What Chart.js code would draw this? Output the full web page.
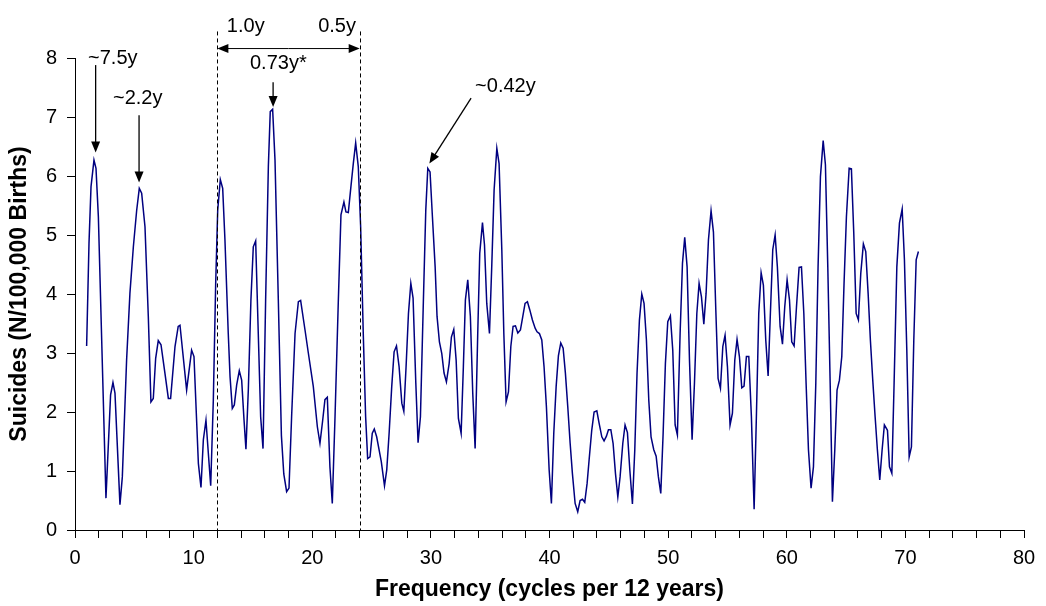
<!DOCTYPE html>
<html>
<head>
<meta charset="utf-8">
<title>Suicides spectrum</title>
<script src="https://cdn.jsdelivr.net/npm/chart.js@4.4.1/dist/chart.umd.min.js"></script>
<style>
  html, body { margin: 0; padding: 0; background: #fff; }
  #chart { display: block; }
</style>
</head>
<body>
<canvas id="chart" width="1046" height="606"></canvas>
<script>
// --- Data ---
const FREQ = [
  0.98, 1.18, 1.35, 1.6, 1.77, 1.97, 2.61, 3.0, 3.2, 3.37, 3.79, 3.99, 4.35, 4.63, 4.92, 5.2, 5.42, 5.62, 5.9, 6.18,
  6.4, 6.6, 6.8, 7.02, 7.25, 7.58, 7.87, 8.06, 8.43, 8.7, 8.85, 9.41, 9.83, 10.03, 10.4, 10.62, 10.82, 11.04, 11.24, 11.44,
  11.66, 11.86, 12.03, 12.25, 12.45, 12.64, 12.92, 13.07, 13.26, 13.43, 13.63, 13.85, 14.05, 14.25, 14.41, 14.61, 14.83, 15.03, 15.23, 15.45,
  15.65, 15.85, 16.07, 16.3, 16.46, 16.66, 16.86, 17.14, 17.4, 17.6, 17.84, 18.04, 18.26, 18.55, 18.83, 19.02, 19.39, 19.67, 20.09, 20.43,
  20.65, 20.88, 21.07, 21.27, 21.49, 21.69, 21.92, 22.2, 22.42, 22.67, 22.84, 23.04, 23.26, 23.46, 23.66, 23.88, 24.08, 24.3, 24.5, 24.67,
  24.87, 25.06, 25.23, 25.43, 25.82, 26.09, 26.28, 26.48, 26.7, 26.9, 27.1, 27.32, 27.55, 27.72, 27.91, 28.11, 28.31, 28.5, 28.73, 28.92,
  29.12, 29.37, 29.57, 29.74, 29.93, 30.13, 30.36, 30.52, 30.72, 30.92, 31.11, 31.31, 31.54, 31.73, 31.93, 32.13, 32.32, 32.55, 32.74, 32.91,
  33.11, 33.33, 33.53, 33.73, 33.95, 34.12, 34.35, 34.52, 34.71, 34.94, 35.13, 35.33, 35.56, 35.75, 35.98, 36.15, 36.34, 36.54, 36.74, 36.93,
  37.13, 37.33, 37.55, 37.75, 37.94, 38.14, 38.34, 38.56, 38.79, 38.95, 39.15, 39.35, 39.54, 39.74, 39.97, 40.16, 40.36, 40.56, 40.75, 40.95,
  41.15, 41.34, 41.54, 41.74, 41.93, 42.16, 42.38, 42.58, 42.78, 42.97, 43.17, 43.34, 43.56, 43.76, 43.99, 44.18, 44.41, 44.6, 44.8, 44.97,
  45.17, 45.36, 45.56, 45.76, 45.95, 46.18, 46.37, 46.57, 46.77, 46.99, 47.19, 47.38, 47.58, 47.78, 47.97, 48.17, 48.37, 48.56, 48.79, 48.99,
  49.18, 49.38, 49.58, 49.77, 49.97, 50.19, 50.39, 50.59, 50.78, 51.01, 51.21, 51.4, 51.6, 51.8, 52.02, 52.22, 52.42, 52.61, 52.81, 53.01,
  53.2, 53.4, 53.62, 53.82, 54.02, 54.21, 54.41, 54.61, 54.8, 55.0, 55.22, 55.42, 55.62, 55.81, 56.01, 56.21, 56.4, 56.6, 56.8, 57.02,
  57.25, 57.44, 57.64, 57.84, 58.03, 58.23, 58.43, 58.62, 58.82, 59.02, 59.21, 59.44, 59.64, 59.83, 60.03, 60.23, 60.42, 60.62, 60.82, 61.04,
  61.24, 61.44, 61.63, 61.83, 62.05, 62.25, 62.45, 62.64, 62.84, 63.07, 63.26, 63.46, 63.66, 63.85, 64.05, 64.24, 64.44, 64.64, 64.83, 65.03,
  65.26, 65.45, 65.65, 65.85, 66.04, 66.24, 66.46, 66.66, 66.86, 67.05, 67.25, 67.45, 67.64, 67.84, 68.04, 68.23, 68.49, 68.66, 68.86, 69.05,
  69.28, 69.5, 69.73, 69.92, 70.12, 70.32, 70.51, 70.71, 70.91, 71.1
];
const SUICIDES = [
  3.12, 4.86, 5.82, 6.27, 6.13, 5.31, 0.54, 2.29, 2.5, 2.32, 0.43, 0.9, 2.88, 4.01, 4.8, 5.42, 5.79, 5.71, 5.14, 3.62,
  2.17, 2.23, 2.91, 3.21, 3.14, 2.66, 2.23, 2.23, 3.11, 3.45, 3.47, 2.37, 3.05, 2.94, 1.13, 0.72, 1.53, 1.86, 1.3, 0.75,
  2.2, 4.18, 5.42, 5.94, 5.79, 4.92, 3.33, 2.6, 2.06, 2.12, 2.46, 2.7, 2.54, 1.86, 1.37, 2.37, 3.9, 4.8, 4.9, 3.33,
  1.92, 1.38, 3.9, 6.16, 7.09, 7.13, 6.27, 3.9, 1.6, 0.95, 0.65, 0.71, 1.92, 3.33, 3.87, 3.89, 3.39, 3.0, 2.43, 1.75,
  1.47, 1.86, 2.21, 2.25, 1.07, 0.45, 1.92, 3.9, 5.34, 5.56, 5.39, 5.38, 5.82, 6.21, 6.56, 6.16, 5.14, 3.33, 1.92, 1.21,
  1.24, 1.64, 1.71, 1.58, 1.16, 0.75, 1.02, 1.64, 2.43, 3.02, 3.12, 2.77, 2.15, 2.01, 2.77, 3.67, 4.18, 3.93, 2.49, 1.48,
  1.92, 3.9, 5.42, 6.13, 6.07, 5.31, 4.46, 3.62, 3.19, 2.99, 2.66, 2.51, 2.82, 3.27, 3.4, 2.88, 1.89, 1.64, 2.77, 3.9,
  4.24, 3.62, 2.32, 1.38, 3.33, 4.69, 5.21, 4.83, 3.84, 3.33, 4.46, 5.76, 6.47, 6.21, 4.75, 3.33, 2.17, 2.34, 3.11, 3.45,
  3.46, 3.34, 3.39, 3.62, 3.84, 3.87, 3.73, 3.56, 3.42, 3.36, 3.33, 3.22, 2.77, 2.09, 1.02, 0.45, 1.64, 2.43, 2.95, 3.17,
  3.08, 2.66, 2.09, 1.47, 0.96, 0.45, 0.31, 0.5, 0.52, 0.47, 0.79, 1.19, 1.69, 2.0, 2.02, 1.81, 1.58, 1.51, 1.59, 1.7,
  1.7, 1.47, 0.96, 0.56, 0.9, 1.47, 1.78, 1.65, 1.02, 0.44, 1.36, 2.66, 3.56, 4.0, 3.84, 3.22, 2.2, 1.58, 1.36, 1.25,
  0.9, 0.62, 1.64, 2.82, 3.53, 3.63, 3.05, 1.78, 1.61, 3.33, 4.52, 4.96, 4.46, 2.88, 1.53, 2.49, 3.67, 4.18, 3.95, 3.49,
  4.01, 4.92, 5.41, 5.05, 3.73, 2.57, 2.4, 3.11, 3.3, 2.77, 1.78, 1.98, 2.88, 3.23, 2.94, 2.41, 2.44, 2.94, 2.94, 1.92,
  0.35, 1.92, 3.67, 4.36, 4.15, 3.22, 2.61, 3.67, 4.75, 5.0, 4.46, 3.45, 3.15, 3.78, 4.24, 3.9, 3.19, 3.12, 3.78, 4.45,
  4.46, 3.67, 2.49, 1.36, 0.71, 1.07, 2.49, 4.46, 5.99, 6.6, 6.19, 4.46, 2.49, 0.48, 1.36, 2.37, 2.54, 2.94, 4.18, 5.31,
  6.13, 6.12, 5.03, 3.67, 3.56, 4.35, 4.85, 4.72, 4.01, 3.22, 2.54, 1.92, 1.36, 0.85, 1.36, 1.78, 1.69, 1.07, 0.96, 2.49,
  4.46, 5.2, 5.44, 4.58, 3.05, 1.24, 1.41, 3.22, 4.58, 4.72
];

const X_MIN = 0, X_MAX = 80, X_TICK_STEP = 2, X_LABEL_STEP = 10;
const Y_MIN = 0, Y_MAX = 8, Y_TICK_STEP = 1;
const PERIOD_BAND = [12, 24]; // 1.0y and 0.5y in cycles per 12 years

const FONT = '"Liberation Sans", Arial, sans-serif';

// --- Annotations: arrows, dashed band lines and period labels ---
function arrow(ctx, x1, y1, x2, y2, len = 11, half = 4.5) {
    const a = Math.atan2(y2 - y1, x2 - x1);
    ctx.beginPath();
    ctx.moveTo(x1, y1);
    ctx.lineTo(x2 - Math.cos(a) * len * 0.8, y2 - Math.sin(a) * len * 0.8);
    ctx.stroke();
    ctx.beginPath();
    ctx.moveTo(x2, y2);
    ctx.lineTo(x2 - Math.cos(a) * len + Math.sin(a) * half, y2 - Math.sin(a) * len - Math.cos(a) * half);
    ctx.lineTo(x2 - Math.cos(a) * len - Math.sin(a) * half, y2 - Math.sin(a) * len + Math.cos(a) * half);
    ctx.closePath();
    ctx.fill();
}

const annotations = {
    id: 'annotations',
    afterDraw(chart) {
        const ctx = chart.ctx;
        const xs = chart.scales.x, ys = chart.scales.y;
        const px = v => xs.getPixelForValue(v);
        const py = v => ys.getPixelForValue(v);
        ctx.save();
        ctx.strokeStyle = '#000';
        ctx.fillStyle = '#000';
        ctx.lineWidth = 1;

        // dashed band lines
        ctx.setLineDash([4, 3]);
        PERIOD_BAND.forEach(f => {
            ctx.beginPath();
            ctx.moveTo(Math.round(px(f)) + 0.5, py(8.45));
            ctx.lineTo(Math.round(px(f)) + 0.5, py(0));
            ctx.stroke();
        });
        ctx.setLineDash([]);

        // double-headed arrow between band lines
        const yb = py(8.16);
        arrow(ctx, (px(12) + px(24)) / 2, yb, px(24), yb);
        arrow(ctx, (px(12) + px(24)) / 2, yb, px(12), yb);

        // single arrows to peaks
        ctx.lineWidth = 1.3;
        arrow(ctx, px(1.74), py(7.88), px(1.74), py(6.4));
        arrow(ctx, px(5.4), py(7.03), px(5.4), py(5.89));
        arrow(ctx, px(16.7), py(7.59), px(16.7), py(7.17));
        arrow(ctx, px(33.39), py(7.32), px(29.87), py(6.21));

        // labels
        ctx.font = '20px ' + FONT;
        ctx.textAlign = 'left';
        ctx.textBaseline = 'middle';
        ctx.fillText('~7.5y', px(1.1), py(8.0));
        ctx.fillText('~2.2y', px(3.2), py(7.32));
        ctx.fillText('1.0y', px(12.8), py(8.54));
        ctx.fillText('0.5y', px(20.5), py(8.54));
        ctx.fillText('0.73y*', px(14.75), py(7.9));
        ctx.fillText('~0.42y', px(33.73), py(7.51));
        ctx.restore();
    }
};

const points = FREQ.map((f, i) => ({ x: f, y: SUICIDES[i] }));

new Chart(document.getElementById('chart').getContext('2d'), {
    type: 'scatter',
    data: {
        datasets: [{
            data: points,
            showLine: true,
            borderColor: '#000080',
            borderWidth: 1.5,
            pointRadius: 0,
            tension: 0,
            fill: false
        }]
    },
    options: {
        responsive: false,
        animation: false,
        layout: { padding: { top: 58, right: 22, left: 0, bottom: 0 } },
        plugins: { legend: { display: false }, tooltip: { enabled: false } },
        scales: {
            x: {
                type: 'linear',
                min: X_MIN, max: X_MAX,
                ticks: {
                    stepSize: X_TICK_STEP,
                    autoSkip: false,
                    maxRotation: 0,
                    color: '#000',
                    padding: 8,
                    font: { family: FONT, size: 20 },
                    callback: v => (v % X_LABEL_STEP === 0 ? v : '')
                },
                grid: { drawOnChartArea: false, tickLength: 8, color: '#000' },
                border: { color: '#000', width: 1 },
                title: {
                    display: true,
                    text: 'Frequency (cycles per 12 years)',
                    color: '#000',
                    font: { family: FONT, size: 23, weight: 'bold' },
                    padding: { top: 0, bottom: 3 }
                },
                afterFit: s => { s.height = 76; }
            },
            y: {
                min: Y_MIN, max: Y_MAX,
                ticks: {
                    stepSize: Y_TICK_STEP,
                    color: '#000',
                    padding: 10,
                    font: { family: FONT, size: 20 }
                },
                grid: { drawOnChartArea: false, tickLength: 8, color: '#000' },
                border: { color: '#000', width: 1 },
                title: {
                    display: true,
                    text: 'Suicides (N/100,000 Births)',
                    color: '#000',
                    font: { family: FONT, size: 23, weight: 'bold' },
                    padding: { top: 6, bottom: 0 }
                },
                afterFit: s => { s.width = 75; }
            }
        }
    },
    plugins: [annotations]
});
</script>
</body>
</html>
